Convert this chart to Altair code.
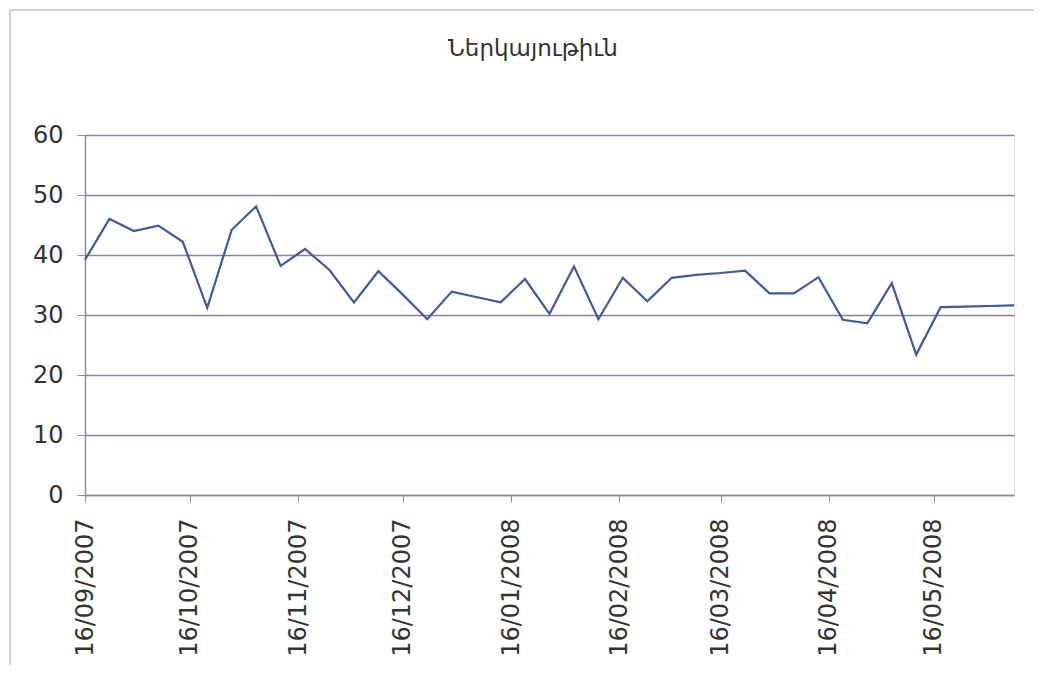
import altair as alt
import pandas as pd

title_text = "Ներկայութիւն"

dates = [
    "2007-09-16", "2007-09-23", "2007-09-30", "2007-10-07", "2007-10-14",
    "2007-10-21", "2007-10-28", "2007-11-04", "2007-11-11", "2007-11-18",
    "2007-11-25", "2007-12-02", "2007-12-09", "2007-12-16", "2007-12-23",
    "2007-12-30", "2008-01-06", "2008-01-13", "2008-01-20", "2008-01-27",
    "2008-02-03", "2008-02-10", "2008-02-17", "2008-02-24", "2008-03-02",
    "2008-03-09", "2008-03-16", "2008-03-23", "2008-03-30", "2008-04-06",
    "2008-04-13", "2008-04-20", "2008-04-27", "2008-05-04", "2008-05-11",
    "2008-05-18", "2008-05-25", "2008-06-01", "2008-06-08",
]

values = [
    39.2, 46.0, 44.0, 44.9, 42.2,
    31.2, 44.2, 48.1, 38.2, 41.0,
    37.5, 32.1, 37.3, 33.4, 29.3,
    33.9, 33.0, 32.1, 36.0, 30.2,
    38.1, 29.3, 36.2, 32.3, 36.2,
    36.7, 37.0, 37.4, 33.6, 33.6,
    36.3, 29.2, 28.6, 35.3, 23.4,
    31.3, 31.4, 31.5, 31.6,
]

# tick dates (year, month, day), shown as 16/mm/yyyy
tick_dates = [
    (2007, 9, 16), (2007, 10, 16), (2007, 11, 16), (2007, 12, 16),
    (2008, 1, 16), (2008, 2, 16), (2008, 3, 16), (2008, 4, 16), (2008, 5, 16),
]
y_ticks = [0, 10, 20, 30, 40, 50, 60]

df = pd.DataFrame({"date": dates, "value": values})

tick_values = [alt.DateTime(year=y, month=m, date=d, utc=True) for (y, m, d) in tick_dates]
x_domain = [alt.DateTime(year=2007, month=9, date=16, utc=True),
            alt.DateTime(year=2008, month=6, date=8, utc=True)]

FONT = "DejaVu Sans"
W, H = 929, 360

line = alt.Chart(df).mark_line(color="#44589a", strokeWidth=2.2).encode(
    x=alt.X(
        "date:T",
        scale=alt.Scale(type="utc", domain=x_domain),
        axis=alt.Axis(
            title=None,
            values=tick_values,
            labelExpr="utcFormat(datum.value, '%d/%m/%Y')",
            labelAngle=270,
            labelFont=FONT,
            labelFontSize=24,
            labelColor="#333333",
            labelPadding=16,
            tickSize=7,
            tickColor="#8c8c9a",
            domainColor="#8c8c9a",
            domainWidth=1.5,
            grid=False,
            labelOverlap=False,
            labelFlush=False,
        ),
    ),
    y=alt.Y(
        "value:Q",
        scale=alt.Scale(domain=[0, 60], nice=False),
        axis=alt.Axis(
            title=None,
            values=y_ticks,
            labelFont=FONT,
            labelFontSize=24,
            labelColor="#333333",
            labelPadding=14,
            tickSize=8,
            tickColor="#8c8c9a",
            domainColor="#8c8c9a",
            domainWidth=1.5,
            gridColor="#85859a",
            gridWidth=1.6,
        ),
    ),
)

one = pd.DataFrame({"a": [0]})
frame_top = alt.Chart(one).mark_rule(stroke="#cfcfd4", strokeWidth=2).encode(
    x=alt.value(-75), x2=alt.value(1100), y=alt.value(-125),
)
frame_left = alt.Chart(one).mark_rule(stroke="#cfcfd4", strokeWidth=2).encode(
    x=alt.value(-75), y=alt.value(-125), y2=alt.value(700),
)

title = alt.Chart(pd.DataFrame({"t": [title_text]})).mark_text(
    font=FONT, fontSize=23, color="#333333", align="center", baseline="alphabetic"
).encode(
    text="t:N",
    x=alt.value(448),
    y=alt.value(-79),
)

chart = alt.layer(frame_top, frame_left, title, line).properties(
    width=W,
    height=H,
    autosize=alt.AutoSizeParams(type="none"),
    padding={"left": 77, "top": 127, "right": 20, "bottom": 170},
).configure_view(
    fill="#ebe9f4",
    stroke="#9a9aa6",
    strokeWidth=1.5,
).configure(background="white")

chart.save("out.html", embed_options={"renderer": "svg", "actions": False})
